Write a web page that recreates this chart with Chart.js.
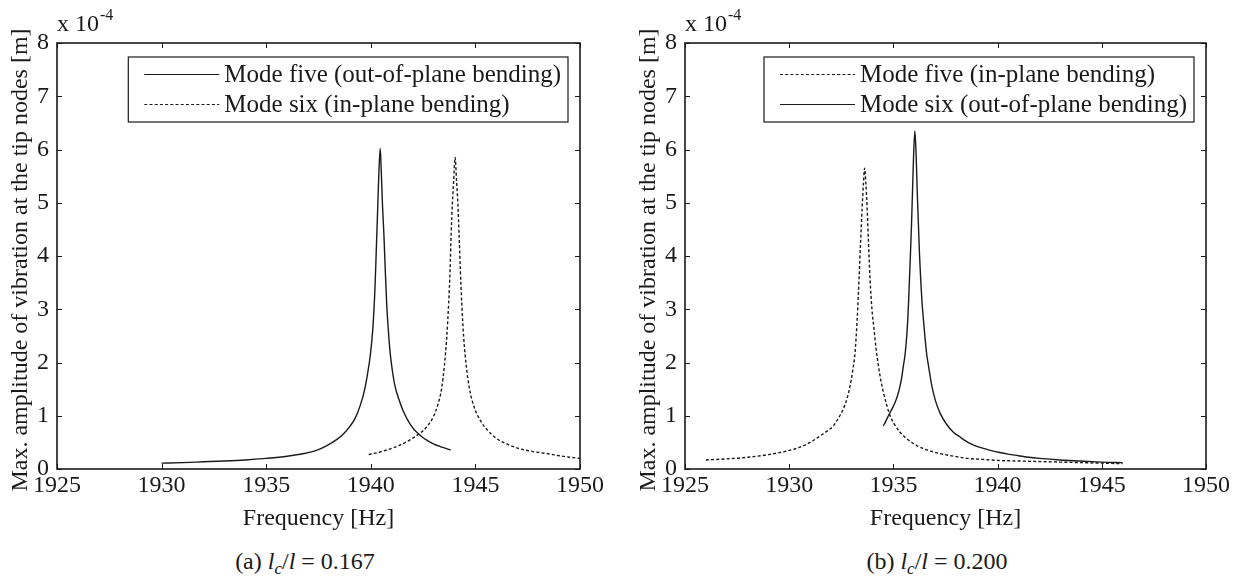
<!DOCTYPE html>
<html>
<head>
<meta charset="utf-8">
<script src="https://cdn.jsdelivr.net/npm/chart.js@4.4.1/dist/chart.umd.min.js"></script>
<style>
  body { margin: 0; background: #fff; width: 1241px; height: 581px; position: relative; overflow: hidden;
         font-family: 'Liberation Serif', 'Times New Roman', serif; color: #1a1a1a; }
  .panel { position: absolute; top: 0; height: 540px; }
  .caption { position: absolute; top: 547px; font-size: 24px; line-height: 28px; text-align: center; white-space: nowrap; }
  .caption sub { font-size: 17px; line-height: 0; vertical-align: -5px; }
</style>
</head>
<body>
<div class="panel" style="left:0;width:610px"><canvas id="chartA"></canvas></div>
<div class="panel" style="left:628px;width:613px"><canvas id="chartB"></canvas></div>
<div class="caption" style="left:155px;width:300px">(a) <i>l</i><sub><i>c</i></sub>/<i>l</i> = 0.167</div>
<div class="caption" style="left:787px;width:300px">(b) <i>l</i><sub><i>c</i></sub>/<i>l</i> = 0.200</div>
<script>
// tick values
const xTicks = [1925, 1930, 1935, 1940, 1945, 1950];
const yTicks = [0, 1, 2, 3, 4, 5, 6, 7, 8];

// (a) lc/l = 0.167 -- mode five (out-of-plane), solid
const aFiveFreq = [1930, 1931, 1932, 1933, 1934, 1935, 1936, 1936.8, 1937.4, 1937.9, 1938.4, 1938.7, 1939.0, 1939.25,
  1939.5, 1939.7, 1939.85, 1939.98, 1940.1, 1940.2, 1940.27, 1940.33, 1940.39, 1940.45, 1940.5, 1940.56, 1940.63,
  1940.7, 1940.76, 1940.84, 1940.92, 1941.03, 1941.16, 1941.35, 1941.56, 1941.9, 1942.27, 1942.6, 1942.99, 1943.4, 1943.82];
const aFiveAmp = [0.11, 0.12, 0.135, 0.15, 0.17, 0.20, 0.24, 0.29, 0.35, 0.44, 0.56, 0.66, 0.80, 0.95,
  1.2, 1.48, 1.8, 2.15, 2.65, 3.4, 4.2, 4.9, 5.6, 6.02, 5.6, 4.95, 4.37,
  3.65, 3.1, 2.6, 2.2, 1.85, 1.55, 1.3, 1.08, 0.83, 0.66, 0.56, 0.47, 0.41, 0.355];
// (a) mode six (in-plane), dashed
const aSixFreq = [1939.9, 1940.44, 1941.4, 1942.27, 1942.65, 1942.99, 1943.2, 1943.39, 1943.52, 1943.63, 1943.72, 1943.79,
  1943.84, 1943.9, 1943.96, 1944.03, 1944.1, 1944.16, 1944.22, 1944.28, 1944.35, 1944.44, 1944.56, 1944.71, 1944.95,
  1945.27, 1945.6, 1946.02, 1946.5, 1947.13, 1947.7, 1948.41, 1949, 1949.52, 1950];
const aSixAmp = [0.27, 0.32, 0.45, 0.65, 0.78, 0.98, 1.2, 1.52, 1.95, 2.47, 3.1, 3.74,
  4.4, 5.0, 5.4, 5.85, 5.4, 5.0, 4.4, 3.74, 3.1, 2.47, 1.95, 1.52, 1.15,
  0.89, 0.72, 0.57, 0.47, 0.38, 0.33, 0.29, 0.25, 0.22, 0.20];

// (b) lc/l = 0.200 -- mode five (in-plane), dashed
const bFiveFreq = [1926, 1927, 1928, 1929, 1929.8, 1930.52, 1931.1, 1931.48, 1931.85, 1932.12, 1932.4, 1932.6, 1932.78,
  1932.92, 1933.05, 1933.16, 1933.26, 1933.35, 1933.43, 1933.5, 1933.56, 1933.62, 1933.68, 1933.74, 1933.8, 1933.88,
  1933.97, 1934.07, 1934.17, 1934.28, 1934.4, 1934.52, 1934.68, 1934.84, 1935.05, 1935.32, 1935.7, 1936.12, 1936.6,
  1937.24, 1937.9, 1938.52, 1939.3, 1940.1, 1941, 1942, 1943, 1944, 1945, 1946];
const bFiveAmp = [0.17, 0.19, 0.22, 0.27, 0.33, 0.41, 0.52, 0.62, 0.72, 0.81, 0.98, 1.13, 1.33,
  1.56, 1.85, 2.19, 2.8, 3.56, 4.3, 4.9, 5.35, 5.65, 5.35, 4.9, 4.3, 3.56,
  3.0, 2.63, 2.25, 1.94, 1.66, 1.44, 1.2, 1.0, 0.84, 0.69, 0.55, 0.44, 0.36,
  0.29, 0.24, 0.20, 0.18, 0.16, 0.15, 0.14, 0.13, 0.12, 0.11, 0.10];
// (b) mode six (out-of-plane), solid
const bSixFreq = [1934.52, 1934.64, 1934.76, 1934.92, 1935.08, 1935.2, 1935.32, 1935.4, 1935.48, 1935.55, 1935.6, 1935.65,
  1935.69, 1935.73, 1935.77, 1935.82, 1935.87, 1935.92, 1935.97, 1936.03, 1936.09, 1936.14, 1936.2, 1936.25, 1936.31,
  1936.37, 1936.44, 1936.52, 1936.6, 1936.7, 1936.84, 1937.02, 1937.24, 1937.55, 1937.88, 1938.2, 1938.5, 1938.85,
  1939.2, 1939.65, 1940.1, 1940.5, 1941, 1941.5, 1942, 1943, 1944, 1945, 1946];
const bSixAmp = [0.81, 0.9, 1.0, 1.12, 1.25, 1.38, 1.56, 1.72, 1.94, 2.12, 2.31, 2.55,
  2.81, 3.15, 3.56, 4.05, 4.6, 5.25, 5.9, 6.35, 5.9, 5.25, 4.6, 4.05, 3.56,
  3.15, 2.81, 2.45, 2.15, 1.9, 1.57, 1.28, 1.05, 0.84, 0.69, 0.60, 0.52, 0.45,
  0.40, 0.35, 0.31, 0.28, 0.25, 0.22, 0.20, 0.17, 0.15, 0.13, 0.12];

const yTitle = 'Max. amplitude of vibration at the tip nodes [m]';
const ink = '#1a1a1a';
const serif = '"Liberation Serif", "Times New Roman", serif';
const dash = [3, 2.2];

const pairs = (xs, ys) => xs.map((x, i) => ({ x, y: ys[i] }));

function series(label, xs, ys, dashed) {
  return {
    label,
    data: pairs(xs, ys),
    borderColor: ink,
    borderWidth: 1.4,
    borderDash: dashed ? dash : [],
    pointRadius: 0,
    fill: false,
    cubicInterpolationMode: 'monotone'
  };
}

// box, inward ticks, exponent, y title and legend drawn matlab style
const matlabLook = {
  id: 'matlabLook',
  afterDraw(chart) {
    const { ctx, chartArea: a, scales: { x, y } } = chart;
    ctx.save();
    ctx.strokeStyle = ink;
    ctx.lineWidth = 1;
    ctx.setLineDash([]);
    ctx.beginPath();
    x.ticks.forEach(t => {
      const px = Math.round(x.getPixelForValue(t.value)) + 0.5;
      ctx.moveTo(px, a.bottom); ctx.lineTo(px, a.bottom - 5);
      ctx.moveTo(px, a.top); ctx.lineTo(px, a.top + 5);
    });
    y.ticks.forEach(t => {
      const py = Math.round(y.getPixelForValue(t.value)) + 0.5;
      ctx.moveTo(a.left, py); ctx.lineTo(a.left + 5, py);
      ctx.moveTo(a.right, py); ctx.lineTo(a.right - 5, py);
    });
    ctx.stroke();
    ctx.lineWidth = 1.6;
    ctx.strokeRect(a.left, a.top, a.right - a.left, a.bottom - a.top);

    ctx.fillStyle = ink;
    ctx.textAlign = 'left';
    ctx.textBaseline = 'alphabetic';
    ctx.font = '24px ' + serif;
    ctx.fillText('x 10', a.left, 31);
    const w = ctx.measureText('x 10').width;
    ctx.font = '16px ' + serif;
    ctx.fillText('-4', a.left + w + 1, 20);

    ctx.save();
    ctx.font = '24px ' + serif;
    ctx.translate(21, 260);
    ctx.rotate(-Math.PI / 2);
    ctx.textAlign = 'center';
    ctx.textBaseline = 'middle';
    ctx.fillText(yTitle, 0, 0);
    ctx.restore();

    // legend
    const sets = chart.data.datasets;
    ctx.font = '25px ' + serif;
    const maxW = Math.max(...sets.map(d => ctx.measureText(d.label).width));
    const boxW = 16 + 75 + 5 + maxW + 7;
    const right = a.right - 12;
    const left = right - boxW;
    const top = a.top + 14;
    ctx.fillStyle = '#fff';
    ctx.fillRect(left, top, boxW, 65);
    ctx.lineWidth = 1.2;
    ctx.strokeRect(left, top, boxW, 65);
    ctx.fillStyle = ink;
    ctx.textBaseline = 'middle';
    sets.forEach((d, i) => {
      const cy = top + 17 + i * 30;
      ctx.beginPath();
      ctx.lineWidth = 1.2;
      ctx.setLineDash(d.borderDash);
      ctx.moveTo(left + 16, cy + 0.5);
      ctx.lineTo(left + 91, cy + 0.5);
      ctx.stroke();
      ctx.setLineDash([]);
      ctx.fillText(d.label, left + 96, cy + 1);
    });
    ctx.restore();
  }
};

function makeChart(id, datasets, rightPad) {
  return new Chart(document.getElementById(id), {
    type: 'line',
    data: { datasets },
    options: {
      responsive: true,
      maintainAspectRatio: false,
      animation: false,
      layout: { padding: { top: 43, right: rightPad, left: 0, bottom: 0 } },
      plugins: { legend: { display: false }, tooltip: { enabled: false } },
      scales: {
        x: {
          type: 'linear',
          min: 1925,
          max: 1950,
          afterBuildTicks: s => { s.ticks = xTicks.map(v => ({ value: v })); },
          afterFit: s => { s.height = 71; s.paddingLeft = 0; s.paddingRight = 0; },
          grid: { display: false, drawTicks: false },
          border: { display: false },
          ticks: { color: ink, padding: 2, maxRotation: 0, callback: v => String(v), font: { family: serif, size: 24 } },
          title: { display: true, text: 'Frequency [Hz]', color: ink, padding: { top: 0, bottom: 7 }, font: { family: serif, size: 24 } }
        },
        y: {
          min: 0,
          max: 8,
          afterBuildTicks: s => { s.ticks = yTicks.map(v => ({ value: v })); },
          afterFit: s => { s.width = 57; s.paddingTop = 0; s.paddingBottom = 0; },
          grid: { display: false, drawTicks: false },
          border: { display: false },
          ticks: { color: ink, padding: 8, callback: v => String(v), font: { family: serif, size: 24 } }
        }
      }
    },
    plugins: [matlabLook]
  });
}

makeChart('chartA', [
  series('Mode five (out-of-plane bending)', aFiveFreq, aFiveAmp, false),
  series('Mode six (in-plane bending)', aSixFreq, aSixAmp, true)
], 30);

makeChart('chartB', [
  series('Mode five (in-plane bending)', bFiveFreq, bFiveAmp, true),
  series('Mode six (out-of-plane bending)', bSixFreq, bSixAmp, false)
], 35);
</script>
</body>
</html>
